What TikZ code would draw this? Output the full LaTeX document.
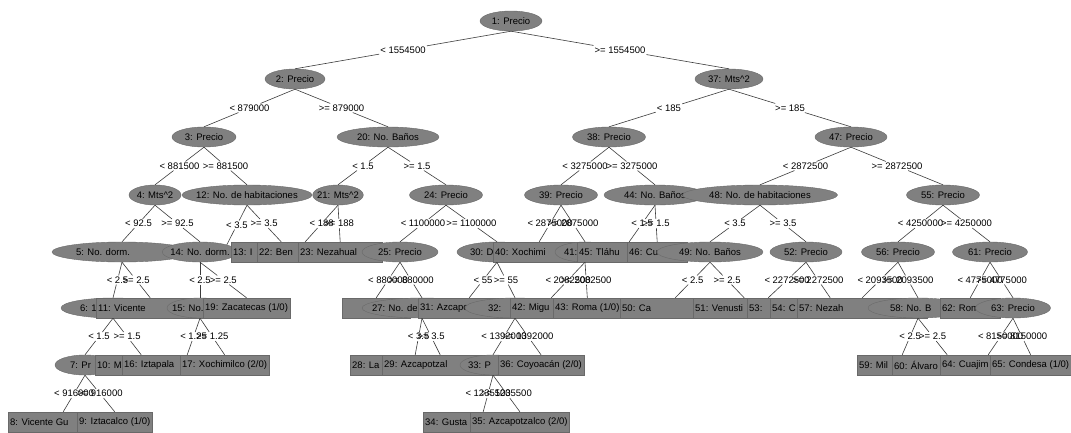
\documentclass[tikz,border=0pt]{standalone}
\usepackage{fontspec}
\setmainfont{Liberation Sans}
\usetikzlibrary{shapes.geometric}
\definecolor{nodegray}{RGB}{128,128,128}
\definecolor{nodeline}{RGB}{105,105,105}
\definecolor{edgecol}{RGB}{60,60,60}
\newcommand\nfont{\fontsize{9.5}{11}\selectfont}
% visible part of a text, left aligned in a box of given width
\newcommand\lt[2]{\makebox[#1pt][l]{#2}}
% visible part of an ellipse text, starting at an offset from the centre
\newcommand\et[2]{\makebox[0pt][l]{\kern#1pt #2}}
\newcommand\myedge[3]{\path (#1.south) -- node[lbl] (e#2) {#3} (#2.north);
  \draw[edge] (#1.south) -- (e#2) -- (#2.north);}
\begin{document}
\begin{tikzpicture}[x=1pt,y=-1pt,
  inner/.style={ellipse, fill=nodegray, draw=nodeline, line width=0.4pt, minimum height=20pt, inner sep=0pt, font=\nfont, text=black},
  leaf/.style={rectangle, fill=nodegray, draw=nodeline, line width=0.4pt, minimum height=20pt, inner xsep=2pt, inner ysep=0pt, anchor=west, font=\nfont, text=black},
  lbl/.style={inner sep=1pt, font=\nfont, text=black},
  edge/.style={draw=edgecol, line width=0.6pt}]
\fill[white] (0,0) rectangle (1071,432);
\useasboundingbox (0,0) rectangle (1071,432);
% level 0
\node[inner, minimum width=62pt] (n1) at (511,21) {1: Precio};
% level 1
\node[inner, minimum width=60pt] (n2) at (295,79) {2: Precio};
\node[inner, minimum width=68pt] (n37) at (729,79) {37: Mts\textasciicircum 2};
% level 2
\node[inner, minimum width=64pt] (n3) at (204,137) {3: Precio};
\node[inner, minimum width=102pt] (n20) at (388,137) {20: No. Baños};
\node[inner, minimum width=73pt] (n38) at (609,137) {38: Precio};
\node[inner, minimum width=72pt] (n47) at (851,137) {47: Precio};
% level 3
\node[inner, minimum width=52pt] (n4) at (155,195) {4: Mts\textasciicircum 2};
\node[inner, minimum width=130pt, inner xsep=-5pt] (n12) at (247,195) {12: No. de habitaciones};
\node[inner, minimum width=50pt, inner xsep=-3pt] (n21) at (338,195) {21: Mts\textasciicircum 2};
\node[inner, minimum width=73pt] (n24) at (446,195) {24: Precio};
\node[inner, minimum width=73pt] (n39) at (561,195) {39: Precio};
\node[inner, minimum width=102pt] (n44) at (655,195) {44: No. Baños};
\node[inner, minimum width=155pt] (n48) at (760,195) {48: No. de habitaciones};
\node[inner, minimum width=73pt] (n55) at (943,195) {55: Precio};
% level 4
\node[inner, minimum width=140pt] (n5) at (122,252) {\et{-46}{5: No. dorm.}};
\node[inner, minimum width=72pt, inner xsep=-3pt] (n14) at (200,252) {14: No. dorm.};
\node[leaf] (L13) at (231,252) {\lt{96}{13: I}};
\node[leaf] (L22) at (257,252) {\lt{92}{22: Ben}};
\node[leaf] (L23) at (298,252) {\lt{80}{23: Nezahual}};
\node[inner, minimum width=76pt] (n25) at (400,252) {25: Precio};
\node[inner, minimum width=80pt] (n30) at (497,252) {\et{-27}{30: D}};
\node[leaf] (L40) at (493,252) {\lt{88}{40: Xochimi}};
\node[inner, minimum width=60pt] (n41) at (585,252) {\et{-21}{41:}};
\node[leaf] (L45) at (577,252) {\lt{100}{45: Tláhu}};
\node[leaf] (L46) at (627,252) {\lt{56}{46: Cu}};
\node[inner, minimum width=106pt] (n49) at (710,252) {49: No. Baños};
\node[inner, minimum width=72pt] (n52) at (806,252) {52: Precio};
\node[inner, minimum width=73pt] (n56) at (898,252) {56: Precio};
\node[inner, minimum width=75pt] (n61) at (990,252) {61: Precio};
% level 5
\node[inner, minimum width=104pt] (n6) at (113,308) {\et{-33}{6: 1}};
\node[leaf] (L11) at (96,308) {\lt{104}{11: Vicente}};
\node[inner, minimum width=66pt] (n15) at (200,308) {\et{-28}{15: No.}};
\node[leaf] (L19) at (203,308) {19: Zacatecas (1/0)};
\node[leaf] (L26) at (342,308) {\lt{64}{}};
\node[inner, minimum width=120pt] (n27) at (422,308) {\et{-50}{27: No. de}};
\node[leaf] (L31) at (418,308) {\lt{98}{31: Azcapot}};
\node[inner, minimum width=100pt] (n32) at (515,308) {\et{-27}{32:}};
\node[leaf] (L42) at (510,308) {\lt{78}{42: Migu}};
\node[leaf] (L43) at (553,308) {43: Roma (1/0)};
\node[leaf] (L50) at (620,308) {\lt{106}{50: Ca}};
\node[leaf] (L51) at (693,308) {\lt{98}{51: Venusti}};
\node[leaf] (L53) at (747,308) {\lt{38}{53:}};
\node[leaf] (L54) at (770,308) {\lt{116}{54: C}};
\node[leaf] (L57) at (797,308) {\lt{126}{57: Nezah}};
\node[inner, minimum width=100pt] (n58) at (918,308) {\et{-28}{58: No. B}};
\node[leaf] (L62) at (940,308) {\lt{56}{62: Roma}};
\node[inner, minimum width=75pt] (n63) at (1013,308) {63: Precio};
% level 6
\node[inner, minimum width=60pt] (n7) at (85,365) {\et{-15}{7: Pr}};
\node[leaf] (L10) at (95,365) {\lt{88}{10: M}};
\node[leaf] (L16) at (122,365) {\lt{126}{16: Iztapala}};
\node[leaf] (L17) at (180,365) {17: Xochimilco (2/0)};
\node[leaf] (L28) at (350,365) {\lt{126}{28: La}};
\node[leaf] (L29) at (382,365) {\lt{112}{29: Azcapotzal}};
\node[inner, minimum width=66pt] (n33) at (493,365) {\et{-25}{33: P}};
\node[leaf] (L36) at (498,365) {36: Coyoacán (2/0)};
\node[leaf] (L59) at (857,365) {\lt{86}{59: Mil}};
\node[leaf] (L60) at (892,365) {\lt{106}{60: Álvaro}};
\node[leaf] (L64) at (940,365) {\lt{92}{64: Cuajim}};
\node[leaf] (L65) at (990,365) {65: Condesa (1/0)};
% level 7
\node[leaf] (L8) at (8,422) {\lt{106}{8: Vicente Gu}};
\node[leaf] (L9) at (77,422) {9: Iztacalco (1/0)};
\node[leaf] (L34) at (423,422) {\lt{116}{34: Gusta}};
\node[leaf] (L35) at (470,422) {35: Azcapotzalco (2/0)};
% edges
\myedge{n1}{n2}{< 1554500}
\myedge{n1}{n37}{>= 1554500}
\myedge{n2}{n3}{< 879000}
\myedge{n2}{n20}{>= 879000}
\myedge{n37}{n38}{< 185}
\myedge{n37}{n47}{>= 185}
\myedge{n3}{n4}{< 881500}
\myedge{n3}{n12}{>= 881500}
\myedge{n20}{n21}{< 1.5}
\myedge{n20}{n24}{>= 1.5}
\myedge{n38}{n39}{< 3275000}
\myedge{n38}{n44}{>= 3275000}
\myedge{n47}{n48}{< 2872500}
\myedge{n47}{n55}{>= 2872500}
\myedge{n4}{n5}{< 92.5}
\myedge{n4}{n14}{>= 92.5}
\path (n12.south) -- node[lbl] (e14b) {< 3.5} (n14.north east);
\draw[edge] (n12.south) -- (e14b) -- (n14.north east);
\myedge{n12}{L13}{>= 3.5}
\myedge{n21}{L22}{< 188}
\myedge{n21}{L23}{>= 188}
\myedge{n24}{n25}{< 1100000}
\myedge{n24}{n30}{>= 1100000}
\myedge{n39}{L40}{< 2875000}
\myedge{n39}{n41}{>= 2875000}
\myedge{n44}{L45}{< 1.5}
\myedge{n44}{L46}{>= 1.5}
\myedge{n48}{n49}{< 3.5}
\myedge{n48}{n52}{>= 3.5}
\myedge{n55}{n56}{< 4250000}
\myedge{n55}{n61}{>= 4250000}
\myedge{n5}{n6}{< 2.5}
\myedge{n5}{L11}{>= 2.5}
\myedge{n14}{n15}{< 2.5}
\myedge{n14}{L19}{>= 2.5}
\myedge{n25}{L26}{< 880000}
\myedge{n25}{n27}{>= 880000}
\myedge{n30}{L31}{< 55}
\myedge{n30}{n32}{>= 55}
\myedge{n41}{L42}{< 2082500}
\myedge{n41}{L43}{>= 2082500}
\myedge{n49}{L50}{< 2.5}
\myedge{n49}{L51}{>= 2.5}
\myedge{n52}{L53}{< 2272500}
\myedge{n52}{L54}{>= 2272500}
\myedge{n56}{L57}{< 2093500}
\myedge{n56}{n58}{>= 2093500}
\myedge{n61}{L62}{< 4775000}
\myedge{n61}{n63}{>= 4775000}
\myedge{n6}{n7}{< 1.5}
\myedge{n6}{L10}{>= 1.5}
\myedge{n15}{L16}{< 1.25}
\myedge{n15}{L17}{>= 1.25}
\myedge{n27}{L28}{< 3.5}
\myedge{n27}{L29}{>= 3.5}
\myedge{n32}{n33}{< 1392000}
\myedge{n32}{L36}{>= 1392000}
\myedge{n58}{L59}{< 2.5}
\myedge{n58}{L60}{>= 2.5}
\myedge{n63}{L64}{< 8150000}
\myedge{n63}{L65}{>= 8150000}
\myedge{n7}{L8}{< 916000}
\myedge{n7}{L9}{>= 916000}
\myedge{n33}{L34}{< 1235500}
\myedge{n33}{L35}{>= 1235500}
\end{tikzpicture}
\end{document}
